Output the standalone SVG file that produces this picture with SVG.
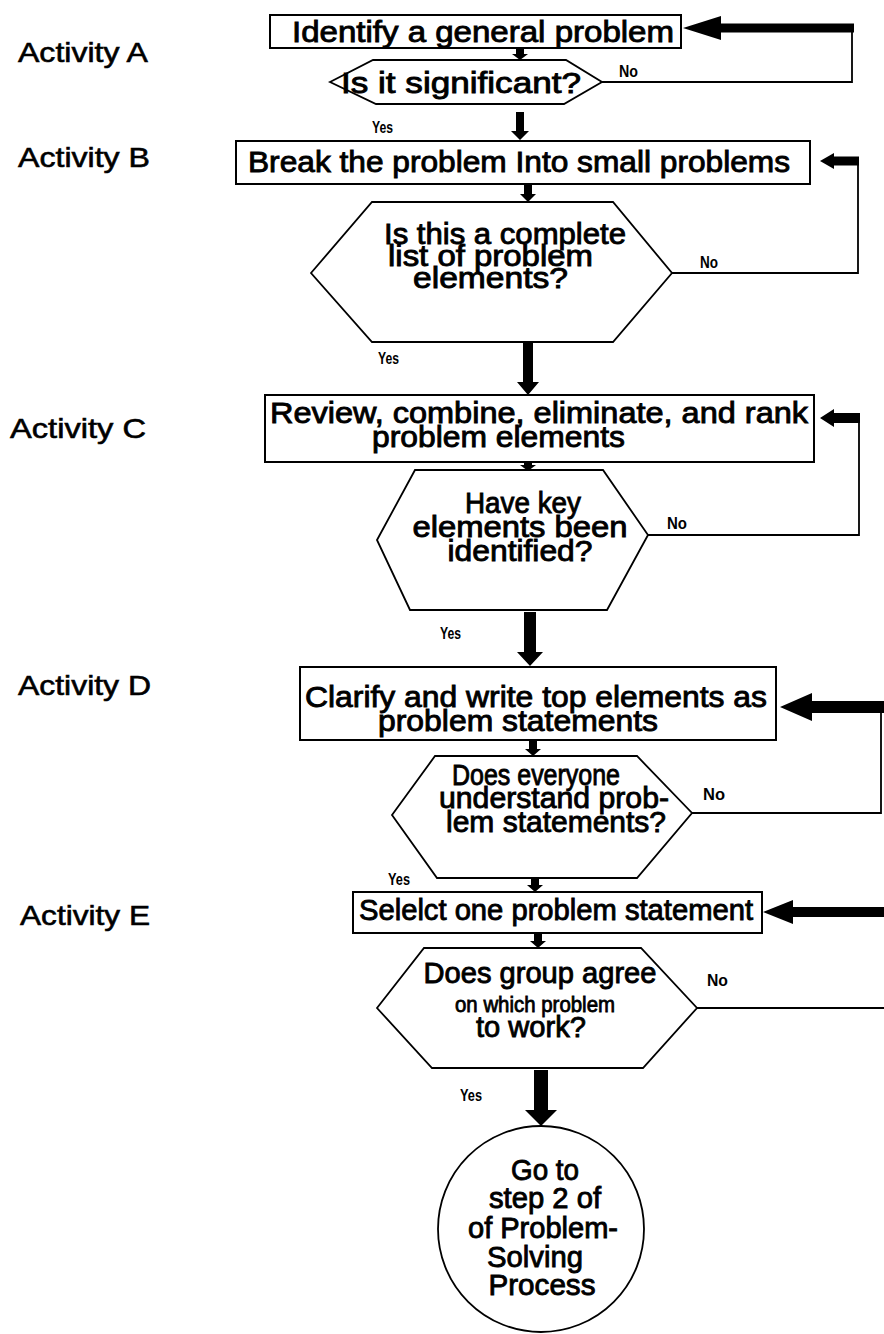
<svg xmlns="http://www.w3.org/2000/svg" width="884" height="1334" viewBox="0 0 884 1334">
  <style>
    .box{fill:#fff;stroke:#000;stroke-width:2}
    .dec{fill:#fff;stroke:#000;stroke-width:1.8}
    .ln{fill:none;stroke:#000;stroke-width:1.8}
    .blk{fill:#000}
    text{font-family:"Liberation Sans",Arial,Helvetica,sans-serif;fill:#000}
    .t{font-size:30px;stroke:#000;stroke-width:0.9}
    .s{font-size:22px;stroke:#000;stroke-width:0.8}
    .act{font-size:28px;stroke:#000;stroke-width:0.6}
    .yn{font-size:17px;font-weight:bold}
  </style>
  <rect width="884" height="1334" fill="#fff"/>

  <!-- activity labels -->
  <g id="labels">
    <text class="act" x="18" y="62" textLength="130" lengthAdjust="spacingAndGlyphs">Activity A</text>
    <text class="act" x="18" y="167" textLength="132" lengthAdjust="spacingAndGlyphs">Activity B</text>
    <text class="act" x="10" y="438" textLength="136" lengthAdjust="spacingAndGlyphs">Activity C</text>
    <text class="act" x="18" y="695" textLength="133" lengthAdjust="spacingAndGlyphs">Activity D</text>
    <text class="act" x="20" y="925" textLength="130" lengthAdjust="spacingAndGlyphs">Activity E</text>
  </g>

  <g id="boxA">
    <rect class="box" x="270" y="15" width="411" height="33"/>
    <text class="t" x="292" y="42" textLength="382" lengthAdjust="spacingAndGlyphs">Identify a general problem</text>
  </g>
  <g id="decA">
    <polygon class="dec" points="330,82 373,60 566,60 602,82 564,104 376,104"/>
    <text class="t" x="341" y="93" textLength="240" lengthAdjust="spacingAndGlyphs">Is it significant?</text>
  </g>

  <g id="boxB">
    <rect class="box" x="236" y="141" width="574" height="43"/>
    <text class="t" font-size="31" x="248" y="172" textLength="542" lengthAdjust="spacingAndGlyphs">Break the problem Into small problems</text>
  </g>
  <g id="decB">
    <polygon class="dec" points="311,273 372,202 613,202 672,273 613,342 372,342"/>
    <text class="t" font-size="31" x="384" y="244" textLength="242" lengthAdjust="spacingAndGlyphs">Is this a complete</text>
    <text class="t" font-size="31" x="388" y="266" textLength="205" lengthAdjust="spacingAndGlyphs">list of problem</text>
    <text class="t" font-size="31" x="413" y="288" textLength="155" lengthAdjust="spacingAndGlyphs">elements?</text>
  </g>

  <g id="boxC">
    <rect class="box" x="265" y="395" width="549" height="67"/>
    <text class="t" x="270" y="423" textLength="538" lengthAdjust="spacingAndGlyphs">Review, combine, eliminate, and rank</text>
    <text class="t" x="372" y="447" textLength="253" lengthAdjust="spacingAndGlyphs">problem elements</text>
  </g>
  <g id="decC">
    <polygon class="dec" points="377,540 415,470 603,470 648,535 607,610 410,610"/>
    <text class="t" font-size="33" x="523" y="513" text-anchor="middle" textLength="116" lengthAdjust="spacingAndGlyphs">Have key</text>
    <text class="t" font-size="33" x="520" y="537" text-anchor="middle" textLength="215" lengthAdjust="spacingAndGlyphs">elements been</text>
    <text class="t" font-size="33" x="520" y="561" text-anchor="middle" textLength="145" lengthAdjust="spacingAndGlyphs">identified?</text>
  </g>

  <g id="boxD">
    <rect class="box" x="300" y="667" width="476" height="73"/>
    <text class="t" x="305" y="707" textLength="462" lengthAdjust="spacingAndGlyphs">Clarify and write top elements as</text>
    <text class="t" x="378" y="731" textLength="280" lengthAdjust="spacingAndGlyphs">problem statements</text>
  </g>
  <g id="decD">
    <polygon class="dec" points="392,815 435,756 637,756 692,813 637,878 437,878"/>
    <text class="t" font-size="29" x="536" y="785" text-anchor="middle" textLength="168" lengthAdjust="spacingAndGlyphs">Does everyone</text>
    <text class="t" font-size="29" x="554" y="808" text-anchor="middle" textLength="230" lengthAdjust="spacingAndGlyphs">understand prob-</text>
    <text class="t" font-size="29" x="556" y="832" text-anchor="middle" textLength="220" lengthAdjust="spacingAndGlyphs">lem statements?</text>
  </g>

  <g id="boxE">
    <rect class="box" x="353" y="892" width="409" height="41"/>
    <text class="t" x="359" y="920" textLength="394" lengthAdjust="spacingAndGlyphs">Selelct one problem statement</text>
  </g>
  <g id="decE">
    <polygon class="dec" points="377,1008 424,948 641,948 697,1008 643,1068 432,1068"/>
    <text class="t" font-size="30" x="540" y="983" text-anchor="middle" textLength="233" lengthAdjust="spacingAndGlyphs">Does group agree</text>
    <text class="s" x="535" y="1012" text-anchor="middle" textLength="160" lengthAdjust="spacingAndGlyphs">on which problem</text>
    <text class="t" font-size="28" x="531" y="1037" text-anchor="middle" textLength="110" lengthAdjust="spacingAndGlyphs">to work?</text>
  </g>

  <g id="endStep">
    <circle class="dec" cx="541" cy="1229" r="103"/>
    <text class="t" font-size="30" x="545" y="1180" text-anchor="middle" textLength="68" lengthAdjust="spacingAndGlyphs">Go to</text>
    <text class="t" font-size="30" x="545" y="1208" text-anchor="middle" textLength="112" lengthAdjust="spacingAndGlyphs">step 2 of</text>
    <text class="t" font-size="30" x="543" y="1238" text-anchor="middle" textLength="150" lengthAdjust="spacingAndGlyphs">of Problem-</text>
    <text class="t" font-size="30" x="535" y="1267" text-anchor="middle" textLength="96" lengthAdjust="spacingAndGlyphs">Solving</text>
    <text class="t" font-size="30" x="542" y="1295" text-anchor="middle" textLength="107" lengthAdjust="spacingAndGlyphs">Process</text>
  </g>

  <!-- flow arrows and feedback loops -->
  <g id="connectors">
    <!-- downward flow -->
    <polygon class="blk" points="516,48 524,48 524,54 528,54 520,60 512,54 516,54"/>
    <polygon class="blk" points="516,112 524,112 524,131 529,131 520,140 511,131 516,131"/>
    <polygon class="blk" points="524,184 532,184 532,194 536,194 528,202 520,194 524,194"/>
    <polygon class="blk" points="523,343 533,343 533,382 539,382 528,395 517,382 523,382"/>
    <polygon class="blk" points="524,462 532,462 532,465 536,465 528,471 520,465 524,465"/>
    <polygon class="blk" points="524,612 536,612 536,652 543,652 530,666 517,652 524,652"/>
    <polygon class="blk" points="529,740 537,740 537,749 541,749 533,756 525,749 529,749"/>
    <polygon class="blk" points="531,878 539,878 539,885 543,885 535,892 527,885 531,885"/>
    <polygon class="blk" points="534,933 542,933 542,941 546,941 538,948 530,941 534,941"/>
    <polygon class="blk" points="534,1070 548,1070 548,1110 557,1110 541,1126 525,1110 534,1110"/>

    <!-- "No" returns -->
    <polyline class="ln" points="602,82 852,82 852,28"/>
    <polygon class="blk" points="854,23.5 721,23.5 721,16 683,28 721,40 721,32.5 854,32.5"/>

    <polyline class="ln" points="672,273 858,273 858,161"/>
    <polygon class="blk" points="859,156.5 834,156.5 834,153 820,161 834,169 834,165.5 859,165.5"/>

    <polyline class="ln" points="648,535 859,535 859,418"/>
    <polygon class="blk" points="860,413 834,413 834,409 820,418 834,427 834,423 860,423"/>

    <polyline class="ln" points="692,813 881,813 881,707"/>
    <polygon class="blk" points="884,701 812,701 812,693 780,707 812,721 812,713 884,713"/>

    <line class="ln" x1="697" y1="1008" x2="884" y2="1008"/>
    <polygon class="blk" points="884,907 793,907 793,900 763,912 793,924 793,917 884,917"/>

    <!-- branch labels -->
    <text class="yn" x="619" y="77" textLength="19" lengthAdjust="spacingAndGlyphs">No</text>
    <text class="yn" x="372" y="133" textLength="21" lengthAdjust="spacingAndGlyphs">Yes</text>
    <text class="yn" x="700" y="268" textLength="18" lengthAdjust="spacingAndGlyphs">No</text>
    <text class="yn" x="378" y="364" textLength="21" lengthAdjust="spacingAndGlyphs">Yes</text>
    <text class="yn" x="667" y="529" textLength="20" lengthAdjust="spacingAndGlyphs">No</text>
    <text class="yn" x="440" y="639" textLength="21" lengthAdjust="spacingAndGlyphs">Yes</text>
    <text class="yn" x="703" y="800" textLength="22" lengthAdjust="spacingAndGlyphs">No</text>
    <text class="yn" x="388" y="885" textLength="22" lengthAdjust="spacingAndGlyphs">Yes</text>
    <text class="yn" x="707" y="986" textLength="21" lengthAdjust="spacingAndGlyphs">No</text>
    <text class="yn" x="460" y="1101" textLength="22" lengthAdjust="spacingAndGlyphs">Yes</text>
  </g>
</svg>
